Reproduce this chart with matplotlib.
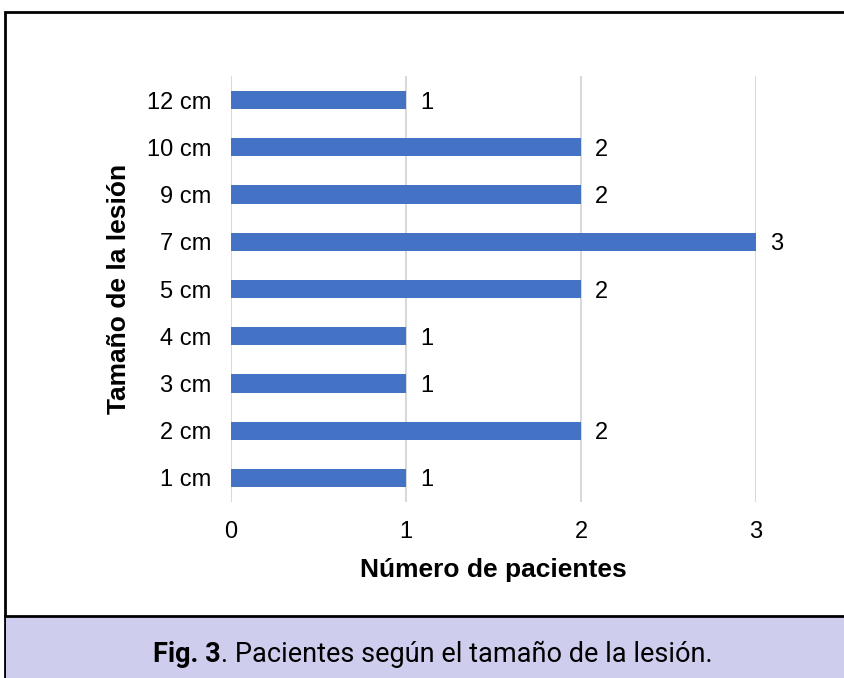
import matplotlib.pyplot as plt
from matplotlib.patches import Rectangle
from matplotlib.lines import Line2D

plt.rcParams['font.family'] = ['Liberation Sans', 'DejaVu Sans']

sizes = ["1 cm", "2 cm", "3 cm", "4 cm", "5 cm", "7 cm", "9 cm", "10 cm", "12 cm"]
patients = [1, 2, 1, 1, 2, 3, 2, 2, 1]

W, H = 845, 678
fig = plt.figure(figsize=(W / 100, H / 100), dpi=100)
ax = fig.add_axes([231 / W, 1 - 501.6 / H, 525 / W, 425.2 / H])

ypos = range(len(sizes))
ax.barh(ypos, patients, height=0.39, color='#4472c4', zorder=3)
for y, v in zip(ypos, patients):
    ax.annotate(str(v), (v, y), xytext=(10, 0), textcoords='offset points',
                va='center_baseline', ha='left', fontsize=17)

ax.set_xlim(0, 3)
ax.set_ylim(-0.5, len(sizes) - 0.5)
ax.set_yticks(list(ypos))
ax.set_yticklabels(sizes)
ax.set_xticks([0, 1, 2, 3])
ax.tick_params(axis='both', length=0, labelsize=17)
ax.tick_params(axis='x', pad=14)
ax.tick_params(axis='y', pad=14)
ax.grid(axis='x', color='#d9d9d9', linewidth=1.5, zorder=0)
for s in ax.spines.values():
    s.set_visible(False)

ax.set_xlabel("Número de pacientes", fontsize=19, fontweight='bold', labelpad=11)
ax.set_ylabel("Tamaño de la lesión", fontsize=19, fontweight='bold', labelpad=12)

# outer frame and caption band
fig.patches.append(Rectangle((5 / W, 0), 1, 1 - 12 / H, transform=fig.transFigure,
                             fill=False, edgecolor='black', linewidth=2))
fig.patches.append(Rectangle((6 / W, 0), 1, 1 - 617 / H, transform=fig.transFigure,
                             facecolor='#cecdee', edgecolor='none'))
fig.lines.append(Line2D([5 / W, 1], [1 - 616 / H] * 2, transform=fig.transFigure,
                        color='black', linewidth=2))

cy = 1 - 654 / H
cap_bold = fig.text(0, cy, "Fig. 3", fontsize=19.5, fontweight='bold',
                    ha='left', va='center', family='Roboto')
cap_rest = fig.text(0, cy, ". Pacientes según el tamaño de la lesión.",
                    fontsize=19.5, ha='left', va='center', family='Roboto')
fig.canvas.draw()
wb = cap_bold.get_window_extent().width
wr = cap_rest.get_window_extent().width
x0 = 433 - (wb + wr) / 2
cap_bold.set_x(x0 / W)
cap_rest.set_x((x0 + wb) / W)

fig.savefig("out.png", dpi=100)
